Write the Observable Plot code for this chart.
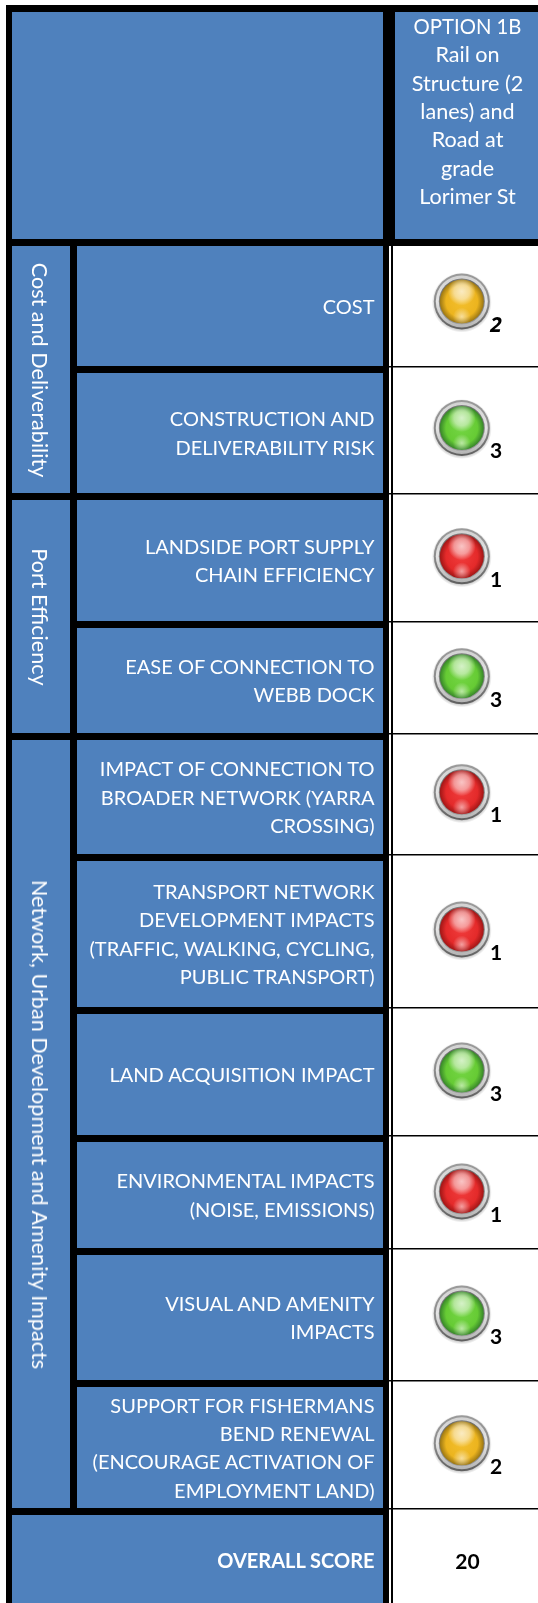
<!DOCTYPE html>
<html>
<head>
<meta charset="utf-8">
<script src="https://cdn.jsdelivr.net/npm/d3@7"></script>
<script src="https://cdn.jsdelivr.net/npm/@observablehq/plot@0.6"></script>
<style>
html,body{margin:0;padding:0;background:#fff;}
svg{display:block;}
svg text{filter:blur(.3px);}
.italicDigit text{font-family:"Open Sans",sans-serif;font-style:italic;font-weight:700;}
</style>
</head>
<body>
<div id="chart"></div>
<script>
// ---- data ----
const optionHeadingLines = ["OPTION 1B", "Rail on", "Structure (2", "lanes) and", "Road at", "grade", "Lorimer St"];
const groupNames = ["Cost and Deliverability", "Port Efficiency", "Network, Urban Development and Amenity Impacts"];
const criteria = [
  "COST",
  "CONSTRUCTION AND\nDELIVERABILITY RISK",
  "LANDSIDE PORT SUPPLY\nCHAIN EFFICIENCY",
  "EASE OF CONNECTION TO\nWEBB DOCK",
  "IMPACT OF CONNECTION TO\nBROADER NETWORK (YARRA\nCROSSING)",
  "TRANSPORT NETWORK\nDEVELOPMENT IMPACTS\n(TRAFFIC, WALKING, CYCLING,\nPUBLIC TRANSPORT)",
  "LAND ACQUISITION IMPACT",
  "ENVIRONMENTAL IMPACTS\n(NOISE, EMISSIONS)",
  "VISUAL AND AMENITY\nIMPACTS",
  "SUPPORT FOR FISHERMANS\nBEND RENEWAL\n(ENCOURAGE ACTIVATION OF\nEMPLOYMENT LAND)"
];
const scores = [2, 3, 1, 3, 1, 1, 3, 1, 3, 2];
const groupOfCriterion = [0, 0, 1, 1, 2, 2, 2, 2, 2, 2];
const overallLabel = "OVERALL SCORE";
const overallScore = 20;

// ---- layout (table geometry, in picture units) ----
const W = 538, H = 1603;
const col = {frameL: 6, groupL: 12, groupR: 70, labelL: 77, labelR: 383, sliverL: 389, sliverR: 391, cellL: 393, headL: 395, textR: 374, cellC: 467, lampX: 461.3, digitX: 495.5, groupC: 38.5};
const head = {top: 5, blueTop: 12, bottom: 239, bodyTop: 246, firstLine: 26.6};
const rowTops = [246, 373, 500, 628, 740, 861, 1014, 1142, 1255, 1387];
const rowBottoms = [366, 493, 621, 733, 854, 1007, 1135, 1248, 1380, 1508];
const lampYs = [301, 427.5, 555.8, 675.8, 791.7, 929, 1070, 1191, 1313, 1442.8];
const overall = {top: 1515, bottom: 1603, textC: 1561.5};
const blue = "#4f81bd", sans = "Lato, Carlito, sans-serif", fs = 20, fsMixed = 21.6, fsDigit = 21, lh = 28.3;
const labelLift = 2, digitDrop = 23.5;

// ---- tables for the marks ----
const rows = criteria.map((label, i) => ({
  label, score: scores[i], group: groupOfCriterion[i],
  top: rowTops[i], bottom: rowBottoms[i], lampY: lampYs[i]
}));
const groups = groupNames.map((name, g) => {
  const rs = rows.filter(r => r.group === g);
  return {name, top: rs[0].top, bottom: rs[rs.length - 1].bottom};
});

const chart = Plot.plot({
  width: W, height: H, margin: 0,
  style: {background: "#fff", fontFamily: sans},
  x: {domain: [0, W], range: [0, W], axis: null},
  y: {domain: [0, H], range: [0, H], axis: null},
  color: {type: "ordinal", domain: [1, 2, 3], range: ["url(#glass1)", "url(#glass2)", "url(#glass3)"]},
  marks: [
    // black frame, white cells
    Plot.rect([0], {x1: col.frameL, x2: W, y1: head.top, y2: H, fill: "#000"}),
    Plot.rect([0], {x1: col.cellL, x2: W, y1: head.bodyTop, y2: H, fill: "#fff"}),
    Plot.rect([0], {x1: col.sliverL, x2: col.sliverR, y1: head.bodyTop, y2: H, fill: "#fff"}),
    Plot.rect(rows, {x1: col.sliverL, x2: W, y1: d => d.bottom, y2: d => d.bottom + 1.5, fill: "#000"}),
    // blue header and body cells
    Plot.rect([0], {x1: col.groupL, x2: col.labelR, y1: head.blueTop, y2: head.bottom, fill: blue}),
    Plot.rect([0], {x1: col.headL, x2: W, y1: head.blueTop, y2: head.bottom, fill: blue}),
    Plot.rect(groups, {x1: col.groupL, x2: col.groupR, y1: "top", y2: "bottom", fill: blue}),
    Plot.rect(rows, {x1: col.labelL, x2: col.labelR, y1: "top", y2: "bottom", fill: blue}),
    Plot.rect([0], {x1: col.groupL, x2: col.labelR, y1: overall.top, y2: overall.bottom, fill: blue}),
    // texts
    Plot.text(optionHeadingLines, {x: col.cellC, y: (d, i) => head.firstLine + i * lh, text: d => d, fill: "#fff", fontSize: (d, i) => i === 0 ? fs + 0.3 : fsMixed, textAnchor: "middle", lineAnchor: "middle"}),
    Plot.text(groups, {x: col.groupC, y: d => (d.top + d.bottom) / 2, text: "name", rotate: 90, fill: "#fff", fontSize: fsMixed, textAnchor: "middle", lineAnchor: "middle"}),
    Plot.text(rows, {x: col.textR, y: d => (d.top + d.bottom) / 2 - labelLift, text: "label", fill: "#fff", fontSize: fs, lineHeight: lh / fs, textAnchor: "end", lineAnchor: "middle"}),
    Plot.text([overallLabel], {x: col.textR, y: overall.textC, text: d => d, fill: "#fff", fontSize: fs, fontWeight: 700, textAnchor: "end", lineAnchor: "middle"}),
    Plot.text([overallScore], {x: col.cellC, y: overall.textC, text: d => d, fill: "#000", fontSize: fsDigit, fontWeight: 700, textAnchor: "middle", lineAnchor: "middle"}),
    // lamps
    Plot.dot(rows, {x: col.lampX, y: "lampY", dy: 1, r: 30, fill: "url(#halo)", stroke: "none"}),
    Plot.dot(rows, {x: col.lampX, y: "lampY", r: 28, fill: "url(#ringOuter)", stroke: "none"}),
    Plot.dot(rows, {x: col.lampX, y: "lampY", r: 26, fill: "url(#ringInner)", stroke: "none"}),
    Plot.dot(rows, {x: col.lampX, y: "lampY", r: 23, fill: "url(#ringDark)", stroke: "none"}),
    Plot.dot(rows, {x: col.lampX, y: "lampY", r: 22, fill: "score", stroke: "none"}),
    Plot.dot(rows, {x: col.lampX, y: "lampY", dy: 15, r: 9, fill: "url(#glow)", stroke: "none"}),
    Plot.dot(rows, {x: col.lampX, y: "lampY", dy: -10, r: 14, fill: "url(#shine)", stroke: "none"}),
    // score digits next to the lamps
    Plot.text(rows.filter((d, i) => i > 0), {x: col.digitX, y: d => d.lampY + digitDrop, text: "score", fill: "#000", fontSize: fsDigit, fontWeight: 700, textAnchor: "middle", lineAnchor: "middle"}),
    Plot.text(rows.filter((d, i) => i === 0), {x: col.digitX, y: d => d.lampY + digitDrop, text: "score", fill: "#000", fontSize: fsDigit, fontWeight: 700, fontStyle: "italic", className: "italicDigit", textAnchor: "middle", lineAnchor: "middle"})
  ]
});

// lamp gradients referenced by the marks above
function radial(id, stops) {
  return `<radialGradient id="${id}" cx="50%" cy="50%" r="50%">` +
    stops.map(([o, c, a]) => `<stop offset="${o}" stop-color="${c}" stop-opacity="${a ?? 1}"/>`).join("") +
    `</radialGradient>`;
}
function vertical(id, stops) {
  return `<linearGradient id="${id}" x1="0" y1="0" x2="0" y2="1">` +
    stops.map(([o, c]) => `<stop offset="${o}" stop-color="${c}"/>`).join("") +
    `</linearGradient>`;
}
const defs = document.createElementNS("http://www.w3.org/2000/svg", "defs");
defs.innerHTML =
  radial("halo", [[0.85, "#777", 0.55], [1, "#777", 0]]) +
  vertical("ringOuter", [[0, "#9b9b9b"], [0.5, "#8c8c8c"], [1, "#5f5f5f"]]) +
  vertical("ringInner", [[0, "#d2d2d2"], [0.5, "#e4e4e4"], [1, "#b4b4b4"]]) +
  vertical("ringDark", [[0, "#6a6a6a"], [1, "#9a9a9a"]]) +
  radial("glass1", [[0, "#f03c3c"], [0.72, "#e42a2a"], [1, "#a01616"]]) +
  radial("glass2", [[0, "#f3bf2e"], [0.72, "#ecb41e"], [1, "#9a7614"]]) +
  radial("glass3", [[0, "#74d544"], [0.72, "#66cb34"], [1, "#37852a"]]) +
  radial("shine", [[0, "#fff", 0.72], [0.55, "#fff", 0.5], [1, "#fff", 0]]) +
  radial("glow", [[0, "#fff", 0.55], [1, "#fff", 0]]);
chart.insertBefore(defs, chart.firstChild);

document.getElementById("chart").appendChild(chart);
</script>
</body>
</html>
